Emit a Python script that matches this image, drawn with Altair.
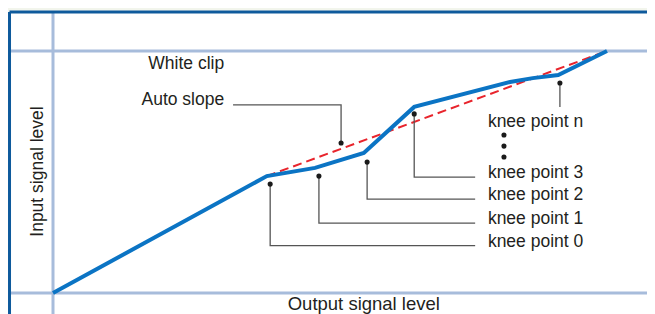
import altair as alt
import pandas as pd

# Data units: x = output signal level, y = input signal level (0 = origin, 100 = white clip)
curve_x = [0, 38.6, 47.3, 56.1, 65.2, 82.5, 86.6, 91.2, 100]
curve_y = [0, 48.3, 51.7, 57.9, 76.9, 87.2, 88.8, 90.1, 100]

slope_x = [38.6, 100]
slope_y = [48.3, 100]

knee_labels = ["knee point 0", "knee point 1", "knee point 2", "knee point 3"]
knee_dot_x = [39.2, 48.0, 56.7, 65.2]
knee_dot_y = [45.0, 48.3, 54.1, 74.0]
knee_line_y = [19.6, 28.9, 38.8, 47.9]
knee_line_end = 76.2
knee_label_x = 78.5

kneen_label = "knee point n"
kneen_dot = (91.5, 86.8)
kneen_line_end_y = 76.9
kneen_label_y = 69.0

ellipsis_x = [81.4, 81.4, 81.4]
ellipsis_y = [65.3, 60.7, 56.2]

auto_label = "Auto slope"
auto_dot = (52.0, 62.0)
auto_line_y = 77.7
auto_line_start = 32.5
white_label = "White clip"
white_label_y = 92.6
side_label_x = 30.9

white_clip_level = 100
x_title = "Output signal level"
y_title = "Input signal level"

# view geometry in data units
X_MIN, X_MAX = -8.123, 107.22
Y_MIN, Y_MAX = -8.678, 117.769
FRAME_X, FRAME_Y = -7.85, 116.1

xs = alt.Scale(domain=[X_MIN, X_MAX], nice=False, zero=False)
ys = alt.Scale(domain=[Y_MIN, Y_MAX], nice=False, zero=False)
FONT = "Liberation Sans"
TXT = "#231f20"


def X(f):
    return alt.X(f, type="quantitative", scale=xs, axis=None)


def Y(f):
    return alt.Y(f, type="quantitative", scale=ys, axis=None)


bg = alt.Chart(pd.DataFrame({"x": [FRAME_X], "x2": [X_MAX], "y": [Y_MIN], "y2": [FRAME_Y]})).mark_rect(
    color="white"
).encode(x=X("x"), x2="x2", y=Y("y"), y2="y2")

hgrid = alt.Chart(pd.DataFrame({"y": [0, white_clip_level], "x": [FRAME_X, FRAME_X], "x2": [X_MAX, X_MAX]})).mark_rule(
    color="#a7bcdb", strokeWidth=3
).encode(x=X("x"), x2="x2", y=Y("y"))

vgrid = alt.Chart(pd.DataFrame({"x": [0], "y": [Y_MIN], "y2": [FRAME_Y]})).mark_rule(
    color="#a7bcdb", strokeWidth=3
).encode(x=X("x"), y=Y("y"), y2="y2")

frame_top = alt.Chart(pd.DataFrame({"y": [FRAME_Y], "x": [FRAME_X], "x2": [X_MAX]})).mark_rule(
    color="#0e5a9c", strokeWidth=3
).encode(x=X("x"), x2="x2", y=Y("y"))

frame_left = alt.Chart(pd.DataFrame({"x": [FRAME_X], "y": [Y_MIN], "y2": [FRAME_Y]})).mark_rule(
    color="#0e5a9c", strokeWidth=3
).encode(x=X("x"), y=Y("y"), y2="y2")

slope = alt.Chart(pd.DataFrame({"x": slope_x, "y": slope_y, "i": range(len(slope_x))})).mark_line(
    color="#e8242c", strokeWidth=2, strokeDash=[9, 5]
).encode(x=X("x"), y=Y("y"), order="i:Q")

curve = alt.Chart(pd.DataFrame({"x": curve_x, "y": curve_y, "i": range(len(curve_x))})).mark_line(
    color="#0b74c4", strokeWidth=4, strokeJoin="miter"
).encode(x=X("x"), y=Y("y"), order="i:Q")

# leader lines
rows = []
for k in range(len(knee_labels)):
    pts = [(knee_dot_x[k], knee_dot_y[k]), (knee_dot_x[k], knee_line_y[k]), (knee_line_end, knee_line_y[k])]
    for j, (a, b) in enumerate(pts):
        rows.append({"g": f"k{k}", "i": j, "x": a, "y": b})
for j, (a, b) in enumerate([kneen_dot, (kneen_dot[0], kneen_line_end_y)]):
    rows.append({"g": "kn", "i": j, "x": a, "y": b})
for j, (a, b) in enumerate([(auto_line_start, auto_line_y), (auto_dot[0], auto_line_y), auto_dot]):
    rows.append({"g": "auto", "i": j, "x": a, "y": b})
leaders = alt.Chart(pd.DataFrame(rows)).mark_line(color="#555555", strokeWidth=1.3, strokeJoin="miter").encode(
    x=X("x"), y=Y("y"), detail="g:N", order="i:Q"
)

dots_x = knee_dot_x + [kneen_dot[0], auto_dot[0]] + ellipsis_x
dots_y = knee_dot_y + [kneen_dot[1], auto_dot[1]] + ellipsis_y
dots = alt.Chart(pd.DataFrame({"x": dots_x, "y": dots_y})).mark_circle(
    color="#1a1a1a", opacity=1, size=26
).encode(x=X("x"), y=Y("y"))

right_labels = alt.Chart(pd.DataFrame({
    "t": knee_labels + [kneen_label],
    "x": [knee_label_x] * 5,
    "y": knee_line_y + [kneen_label_y],
})).mark_text(align="left", baseline="alphabetic", font=FONT, fontSize=17.5, color=TXT, dy=1).encode(
    x=X("x"), y=Y("y"), text="t:N"
)

left_labels = alt.Chart(pd.DataFrame({
    "t": [white_label, auto_label],
    "x": [side_label_x, side_label_x],
    "y": [white_label_y, auto_line_y],
})).mark_text(align="right", baseline="alphabetic", font=FONT, fontSize=17.5, color=TXT).encode(
    x=X("x"), y=Y("y"), text="t:N"
)

xt = alt.Chart(pd.DataFrame({"t": [x_title], "x": [56.1], "y": [-7.0]})).mark_text(
    align="center", baseline="alphabetic", font=FONT, fontSize=18.5, color=TXT
).encode(x=X("x"), y=Y("y"), text="t:N")

yt = alt.Chart(pd.DataFrame({"t": [y_title], "x": [-1.8], "y": [50.2]})).mark_text(
    align="center", baseline="alphabetic", font=FONT, fontSize=17.5, color=TXT, angle=270
).encode(x=X("x"), y=Y("y"), text="t:N")

chart = alt.layer(
    bg, hgrid, vgrid, frame_top, frame_left, slope, curve, leaders, dots, right_labels, left_labels, xt, yt
).properties(
    width=639, height=306, padding=0, autosize=alt.AutoSizeParams(type="none"), background="#f2f5ec"
).configure_view(stroke=None)

chart.save("out.html", embed_options={"renderer": "svg", "actions": False})
